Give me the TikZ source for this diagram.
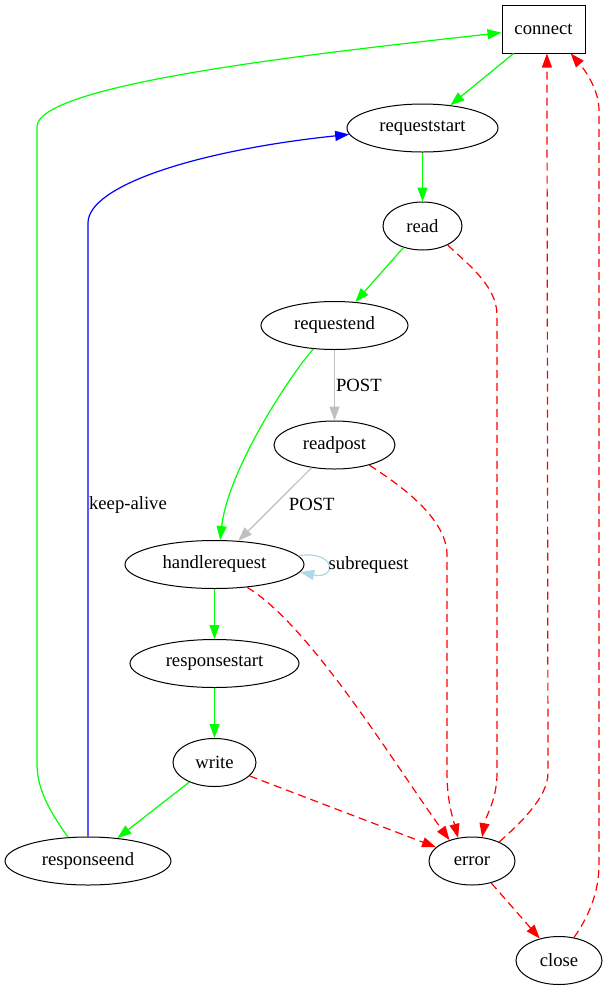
\documentclass[tikz,border=0pt]{standalone}
\usepackage{fontspec}
\setmainfont{Liberation Serif}
\usepackage{tikz}
\usetikzlibrary{arrows.meta,shapes.geometric}

\definecolor{gvgray}{HTML}{C0C0C0}
\definecolor{gvlightblue}{HTML}{ADD8E6}

\begin{document}
\begin{tikzpicture}[x=1pt,y=-1pt,>={Triangle[length=14pt,width=10pt]},
	state/.style={ellipse,draw,line width=1pt,minimum height=48pt,inner sep=0pt},
	go/.style={->,line width=1.2pt,green},
	fail/.style={->,line width=1.2pt,red,dash pattern=on 8pt off 5pt},
	post/.style={->,line width=1.2pt,gvgray},
	keep/.style={->,line width=1.2pt,blue},
	sub/.style={->,line width=1.2pt,gvlightblue},
	every node/.style={text=black,font=\fontsize{18.67}{22}\selectfont}]
	
	\useasboundingbox (0,0) rectangle (607,989);
	
	% states
	\node [draw,line width=1pt,minimum width=83pt,minimum height=48pt] (connect) at (543.5,29) {connect};
	\node [state,minimum width=151pt] (requeststart) at (422.5,128) {requeststart};
	\node [state,minimum width=79pt] (read) at (422.5,226) {read};
	\node [state,minimum width=147pt] (requestend) at (334.5,325.5) {requestend};
	\node [state,minimum width=121pt] (readpost) at (334.5,445) {readpost};
	\node [state,minimum width=179pt] (handlerequest) at (214.5,564.5) {handlerequest};
	\node [state,minimum width=169pt] (responsestart) at (214.5,663.5) {responsestart};
	\node [state,minimum width=83pt] (write) at (214.5,762.5) {write};
	\node [state,minimum width=166pt] (responseend) at (88,861) {responseend};
	\node [state,minimum width=86pt] (error) at (472,861) {error};
	\node [state,minimum width=86pt] (close) at (559,960.5) {close};
	
	% normal flow
	\draw [go] (connect) -- (requeststart);
	\draw [go] (requeststart) -- (read);
	\draw [go] (read) -- (requestend);
	\draw [go] (requestend.228) .. controls (290,375) and (228,470) .. (handlerequest.77);
	\draw [go] (handlerequest) -- (responsestart);
	\draw [go] (responsestart) -- (write);
	\draw [go] (write) -- (responseend);
	\draw [go] (responseend.130) .. controls (45,805) and (37,785) .. (37,763) -- (37,127)
		.. controls (37,85) and (300,55) .. (connect.185);
	
	% POST body
	\draw [post] (requestend) -- node [right,inner sep=1pt] {POST} (readpost);
	\draw [post] (readpost) -- node [right=10pt] {POST} (handlerequest);
	
	% keep-alive and subrequest
	\draw [keep] (responseend.north) -- node [right,pos=0.54,inner sep=0.5pt] {keep-alive} (88,223)
		.. controls (88,185) and (200,150) .. (requeststart.185);
	\draw [sub] (handlerequest.6) .. controls (337,550) and (337,580) .. node [right,inner sep=0.5pt] {subrequest} (handlerequest.-5);
	
	% errors
	\draw [fail] (read.323) .. controls (465,262) and (497,285) .. (497,315) -- (497,773)
		.. controls (497,800) and (486,815) .. (error.67);
	\draw [fail] (readpost.330) .. controls (395,482) and (445,515) .. (447,553) -- (447,773)
		.. controls (447,800) and (452,815) .. (error.121);
	\draw [fail] (handlerequest.325) .. controls (310,625) and (395,765) .. (error.137);
	\draw [fail] (write) -- (error);
	\draw [fail] (error) -- (close);
	\draw [fail] (error.35) .. controls (518,825) and (548,798) .. (548,773) -- (connect.-82);
	\draw [fail] (close.57) .. controls (590,915) and (599,890) .. (599,865) -- (599,110)
		.. controls (599,90) and (585,70) .. (connect.-42);
	
\end{tikzpicture}
\end{document}
